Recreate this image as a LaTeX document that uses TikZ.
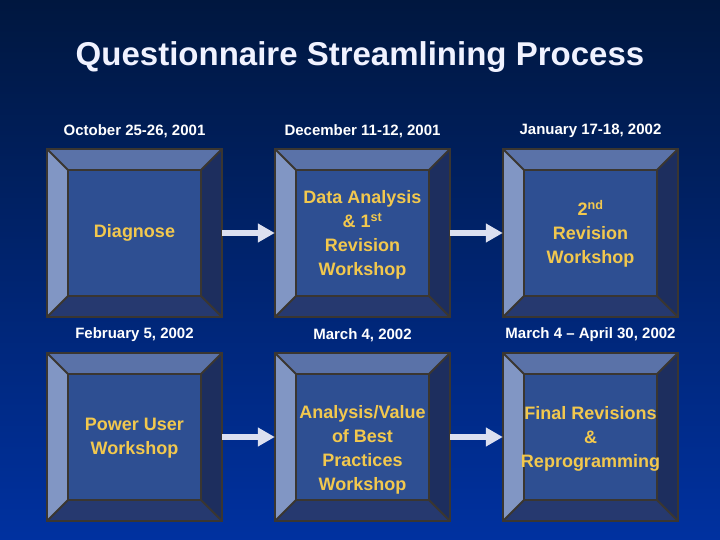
\documentclass[tikz,border=0pt]{standalone}
\usepackage{fontspec}
\setmainfont{Liberation Sans}
\usepackage{tikz}
\usepackage{xcolor}
\usetikzlibrary{arrows.meta, positioning}
\definecolor{bgtop}{HTML}{00173F}
\definecolor{bgbot}{HTML}{0031A0}
\definecolor{bevtop}{HTML}{5A72A8}
\definecolor{bevleft}{HTML}{8196C4}
\definecolor{bevright}{HTML}{1D2E5E}
\definecolor{bevbot}{HTML}{26396F}
\definecolor{boxface}{HTML}{2E4F92}
\definecolor{rim}{HTML}{3A3631}
\definecolor{gold}{HTML}{F2C84E}
\definecolor{arrowc}{HTML}{DCE0F0}
\definecolor{titlec}{HTML}{F0F2FF}

\begin{document}
\begin{tikzpicture}[x=1pt, y=-1pt,
    box/.style={draw=none, minimum width=175pt, minimum height=168pt, inner sep=0pt},
    boxtext/.style={text=gold, align=center, inner sep=0pt, font=\bfseries\fontsize{18}{24}\selectfont},
    date/.style={text=white, inner sep=0pt, font=\bfseries\fontsize{15}{18}\selectfont},
    title/.style={text=titlec, inner sep=0pt, font=\bfseries\fontsize{33}{40}\selectfont},
    flow/.style={draw=arrowc, line width=6pt, -{Triangle[width=18pt, length=17pt]}}]
        \useasboundingbox (0,0) rectangle (720,540);
        \shade[top color=bgtop, bottom color=bgbot] (0,0) rectangle (720,540);
        % title
        \node[title] (ttl) at (360,57) {Questionnaire Streamlining Process};
        % bevelled boxes
        \foreach \n/\x/\y in
        {b1/134.5/233,b2/362.5/233,b3/590.5/233,b4/134.5/437,b5/362.5/437,b6/590.5/437} {
            \begin{scope}[shift={(\x,\y)}]
                \fill[boxface] (-66.5,-63) rectangle (66.5,63);
                \fill[bevtop] (-87.5,-84) -- (87.5,-84) -- (66.5,-63) -- (-66.5,-63) -- cycle;
                \fill[bevleft] (-87.5,-84) -- (-66.5,-63) -- (-66.5,63) -- (-87.5,84) -- cycle;
                \fill[bevright] (87.5,-84) -- (87.5,84) -- (66.5,63) -- (66.5,-63) -- cycle;
                \fill[bevbot] (-87.5,84) -- (87.5,84) -- (66.5,63) -- (-66.5,63) -- cycle;
                \draw[rim, line width=2pt] (-87.5,-84) rectangle (87.5,84);
                \draw[rim, line width=2pt] (-66.5,-63) rectangle (66.5,63);
                \draw[rim, line width=2pt] (-87.5,-84) -- (-66.5,-63) (87.5,-84) -- (66.5,-63)
                    (-87.5,84) -- (-66.5,63) (87.5,84) -- (66.5,63);
            \end{scope}
            \node[box] (\n) at (\x,\y) {};
        }
        % dates
        \node[date] (d1) at (134.5,131) {October 25-26, 2001};
        \node[date] (d2) at (362.5,131) {December 11-12, 2001};
        \node[date] (d3) at (590.5,131) {January 17-18, 2002};
        \node[date] (d4) at (134.5,335) {February 5, 2002};
        \node[date] (d5) at (362.5,335) {March 4, 2002};
        \node[date] (d6) at (590.5,335) {March 4 -- April 30, 2002};
        % box texts
        \node[boxtext] (t1) at (134.5,233) {Diagnose};
        \node[boxtext] (t2) at (362.5,235) {Data Analysis\\ \& 1\textsuperscript{st}\\ Revision\\ Workshop};
        \node[boxtext] (t3) at (590.5,234) {2\textsuperscript{nd}\\ Revision\\ Workshop};
        \node[boxtext] (t4) at (134.5,438) {Power User\\ Workshop};
        \node[boxtext] (t5) at (362.5,450) {Analysis/Value\\ of Best\\ Practices\\ Workshop};
        \node[boxtext] (t6) at (590.5,439) {Final Revisions\\ \&\\ Reprogramming};
        % arrows
        \foreach \p/\q in
        {b1/b2,b2/b3,b4/b5,b5/b6} \draw[flow] (\p) -- (\q);
\end{tikzpicture}
\end{document}
